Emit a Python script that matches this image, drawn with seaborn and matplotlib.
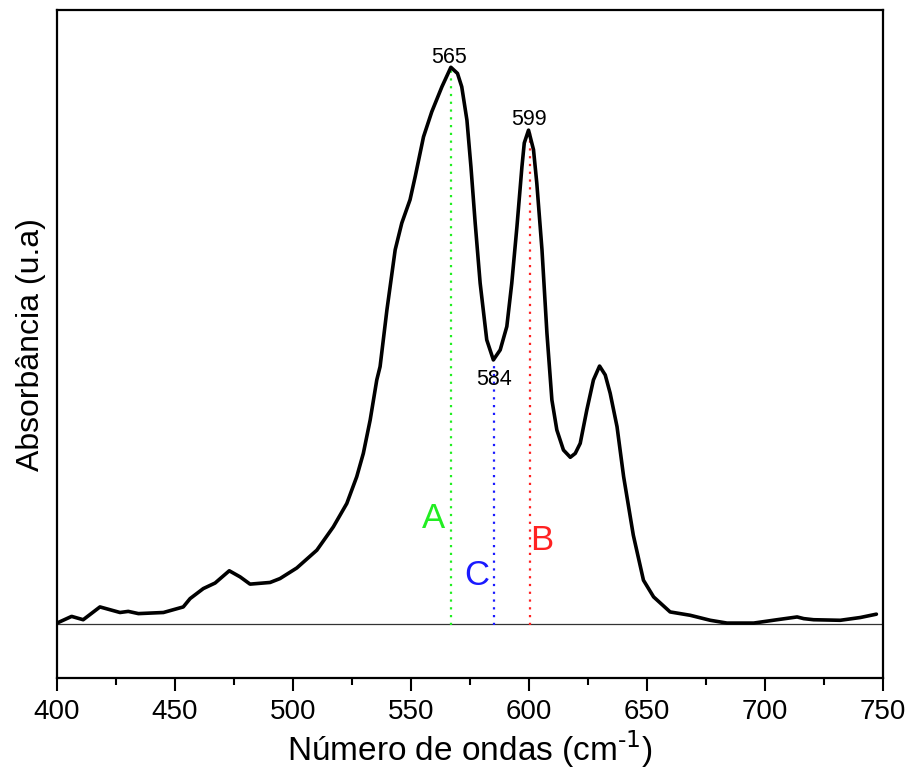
import numpy as np
import pandas as pd
import matplotlib
matplotlib.use("Agg")
import matplotlib.pyplot as plt
import seaborn as sns
from matplotlib.ticker import MultipleLocator

# Espectro
wavenumber = [400.0, 406.2, 411.1, 418.2, 426.7, 430.2, 434.5, 445.1, 453.5, 456.4,
              462.0, 467.0, 473.0, 477.6, 481.8, 490.3, 494.5, 501.6, 510.1, 517.1,
              522.8, 527.0, 529.8, 532.7, 535.5, 536.9, 539.8, 543.3, 546.1, 549.6,
              551.8, 555.3, 558.8, 563.1, 566.9, 569.7, 571.5, 573.7, 575.4, 577.2,
              579.3, 582.1, 584.9, 587.8, 590.6, 592.7, 594.9, 597.0, 598.0, 599.8,
              601.9, 603.3, 605.5, 607.6, 609.7, 611.8, 614.6, 617.5, 619.6, 621.7,
              624.5, 627.3, 629.9, 632.3, 634.4, 637.3, 640.1, 644.2, 648.5, 652.8,
              659.8, 668.3, 676.8, 683.9, 695.2, 705.1, 713.6, 716.4, 720.6, 731.9,
              740.4, 747.2]
absorbance = [0.002, 0.014, 0.008, 0.031, 0.021, 0.023, 0.019, 0.021, 0.031, 0.046,
              0.064, 0.074, 0.096, 0.085, 0.072, 0.075, 0.082, 0.101, 0.133, 0.175,
              0.217, 0.265, 0.307, 0.367, 0.439, 0.463, 0.565, 0.673, 0.721, 0.763,
              0.805, 0.876, 0.921, 0.966, 1.001, 0.990, 0.966, 0.906, 0.822, 0.721,
              0.613, 0.511, 0.475, 0.493, 0.535, 0.613, 0.715, 0.822, 0.865, 0.888,
              0.853, 0.793, 0.673, 0.523, 0.403, 0.349, 0.313, 0.300, 0.307, 0.325,
              0.385, 0.439, 0.464, 0.448, 0.415, 0.355, 0.265, 0.160, 0.079, 0.049,
              0.022, 0.016, 0.007, 0.002, 0.002, 0.008, 0.013, 0.010, 0.008, 0.007,
              0.012, 0.018]

# Linhas de referencia (A, C, B)
ref_x = [566.8, 585.2, 600.5]
ref_top = [1.001, 0.475, 0.887]
ref_colors = ["#22ee22", "#1a1aff", "#ff2222"]
ref_letters = ["A", "C", "B"]
letter_x = [559.4, 578.0, 605.4]
letter_y = [0.190, 0.088, 0.150]

# Rotulos dos picos
peak_labels = ["565", "599", "584"]
peak_label_x = [566.0, 599.9, 585.2]
peak_label_y = [1.019, 0.907, 0.439]

df = pd.DataFrame({"x": wavenumber, "y": absorbance})

sns.set_style("ticks")
plt.rcParams["font.family"] = ["Liberation Sans", "DejaVu Sans"]
plt.rcParams["text.color"] = "black"
plt.rcParams["axes.labelcolor"] = "black"
plt.rcParams["xtick.color"] = "black"

fig = plt.figure(figsize=(9.09, 7.68), dpi=100)
ax = fig.add_axes([0.0627, 0.117, 0.9087, 0.870])

ax.axhline(0, color="#333333", lw=0.9, zorder=1)

for xv, top, c in zip(ref_x, ref_top, ref_colors):
    ax.vlines(xv, -0.002, top, colors=c, linestyles=(0, (1, 2.5)), lw=1.6, zorder=2)

sns.lineplot(data=df, x="x", y="y", color="black", lw=2.6, ax=ax, zorder=3,
             solid_joinstyle="round", solid_capstyle="round")

for t, xv, yv, c in zip(ref_letters, letter_x, letter_y, ref_colors):
    ax.text(xv, yv, t, color=c, fontsize=25, ha="center", va="center")

for t, xv, yv in zip(peak_labels, peak_label_x, peak_label_y):
    ax.text(xv, yv, t, color="black", fontsize=15.5, ha="center", va="center")

ax.set_xlim(400, 750)
ax.set_ylim(-0.097, 1.104)
ax.xaxis.set_major_locator(MultipleLocator(50))
ax.xaxis.set_minor_locator(MultipleLocator(25))
ax.set_yticks([])
ax.tick_params(axis="x", which="major", direction="out", length=9, width=1.5,
               labelsize=20, pad=6, labelcolor="black")
ax.tick_params(axis="x", which="minor", direction="out", length=5, width=1.5)
for s in ax.spines.values():
    s.set_linewidth(1.6)
    s.set_color("black")

ax.set_xlabel(r"Número de ondas (cm$^{\text{-1}}$)", fontsize=24, labelpad=2)
ax.set_ylabel("Absorbância (u.a)", fontsize=23, labelpad=8)

fig.savefig("out.png", dpi=100)
